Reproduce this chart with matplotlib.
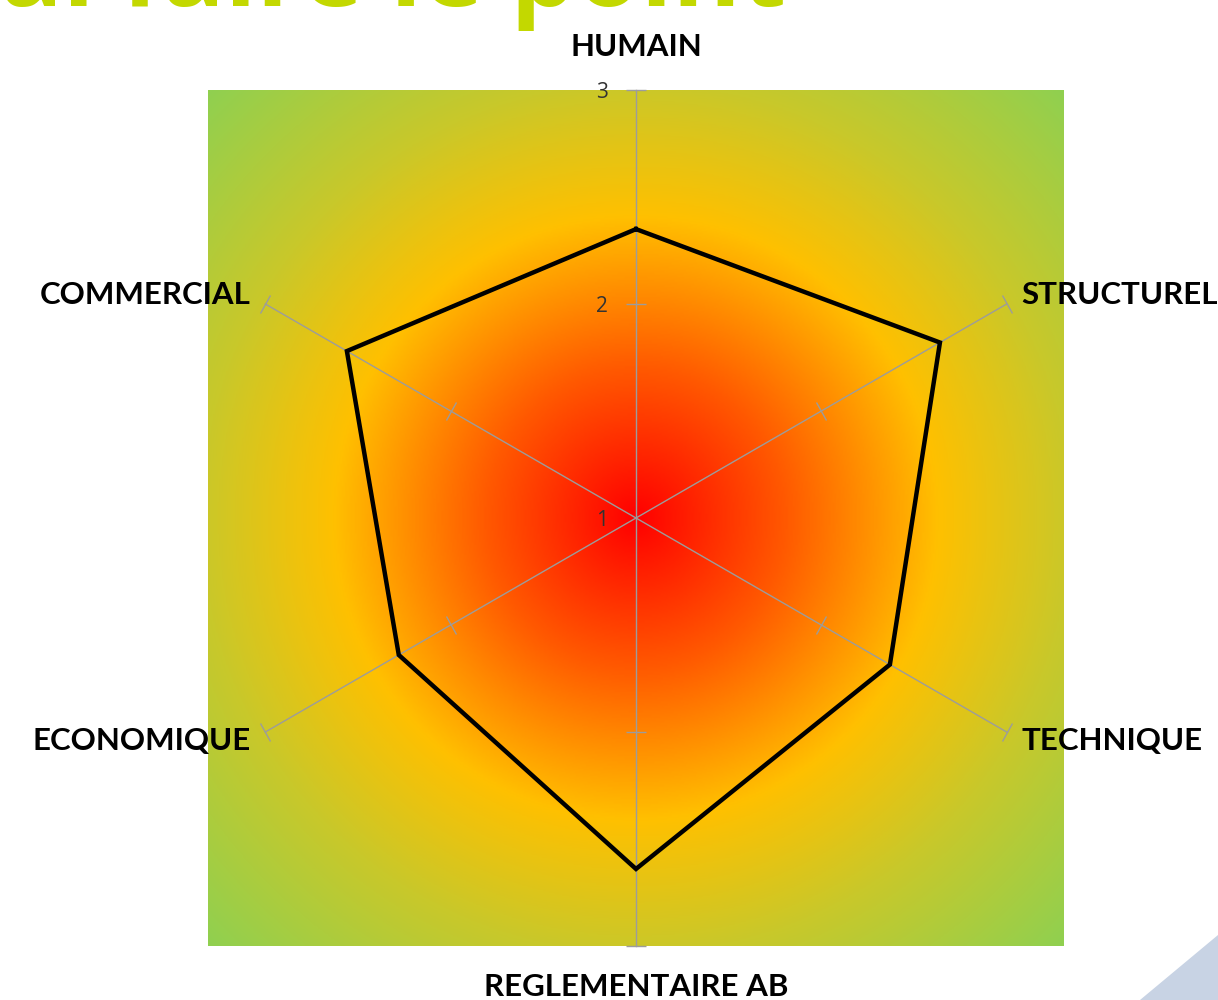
import numpy as np
import matplotlib
matplotlib.use("Agg")
import matplotlib.pyplot as plt
from matplotlib.colors import LinearSegmentedColormap
from matplotlib.markers import MarkerStyle
from matplotlib.transforms import Affine2D
from matplotlib.patches import Polygon

categories = ["HUMAIN", "STRUCTUREL", "TECHNIQUE", "REGLEMENTAIRE AB", "ECONOMIQUE", "COMMERCIAL"]
values = [2.35, 2.64, 2.37, 2.64, 2.28, 2.56]
r_ticks = [1, 2, 3]
r_tick_labels = ["1", "2", "3"]
title_text = "al faire le point"

W, H = 1218, 1000
fig = plt.figure(figsize=(W / 100, H / 100), dpi=100)
fig.patch.set_facecolor("white")

# axes box (pixels): x 208..1064, y 90..946
L, T, S = 208, 90, 856
rect = [L / W, 1 - (T + S) / H, S / W, S / H]

# radial gradient background
bg = fig.add_axes(rect)
bg.set_axis_off()
n = 600
yy, xx = np.mgrid[-1:1:n * 1j, -1:1:n * 1j]
rr = np.sqrt(xx ** 2 + yy ** 2) * 428 / 605
cmap = LinearSegmentedColormap.from_list(
    "g", [(0.0, "#FF0000"), (0.25, "#FF5A00"), (0.5, "#FFC000"), (0.72, "#C9C82A"), (1.0, "#90D050")])
bg.imshow(rr, cmap=cmap, vmin=0, vmax=1, extent=[-1, 1, -1, 1], interpolation="bilinear")
bg.set_xlim(-1, 1)
bg.set_ylim(-1, 1)

ax = fig.add_axes(rect, projection="polar")
ax.patch.set_alpha(0)
ax.set_theta_offset(np.pi / 2)
ax.set_theta_direction(-1)
ax.set_ylim(1, 3)
ax.grid(False)
ax.spines["polar"].set_visible(False)
ax.set_xticks([])
ax.set_yticks([])

angles = np.arange(len(categories)) * 2 * np.pi / len(categories)
grey = "#9C9C9C"
for k, a in enumerate(angles):
    ax.plot([a, a], [1, 3], color=grey, lw=1.0, zorder=2, clip_on=False)
    deg = np.degrees(a)
    m = MarkerStyle("_", transform=Affine2D().rotate_deg(-deg))
    ax.plot([a, a], [2, 3], linestyle="none", marker=m, markersize=15,
            markeredgecolor=grey, markeredgewidth=1.0, zorder=2, clip_on=False)

vals = values + values[:1]
angs = list(angles) + [angles[0]]
ax.plot(angs, vals, color="black", lw=3.2, zorder=4, solid_joinstyle="miter", clip_on=False)

for r, lab in zip(r_ticks, r_tick_labels):
    ax.annotate(lab, xy=(0, r), xytext=(-20, -2), textcoords="offset points",
                ha="right", va="center", fontsize=15, color="#333333",
                family="Open Sans", annotation_clip=False)

lab_r = [3.2, 3.08, 3.08, 3.19, 3.08, 3.08]
has = ["center", "left", "left", "center", "right", "right"]
for a, c, r, h in zip(angles, categories, lab_r, has):
    ax.text(a, r, c, ha=h, va="center", fontsize=22.5, fontweight="bold",
            family="Lato", color="black", clip_on=False)

# cropped title at top
fig.text(0.0, 1 - 6 / H, title_text, ha="left", va="baseline", fontsize=75,
         fontweight="bold", family="Open Sans", color="#C3D800")

# decorative triangle bottom right
tri = Polygon([[1 - 78 / W, 0], [1, 65 / H], [1, 0]], closed=True,
              transform=fig.transFigure, facecolor="#C8D3E4", edgecolor="none")
fig.patches.append(tri)

fig.savefig("out.png", dpi=100)
